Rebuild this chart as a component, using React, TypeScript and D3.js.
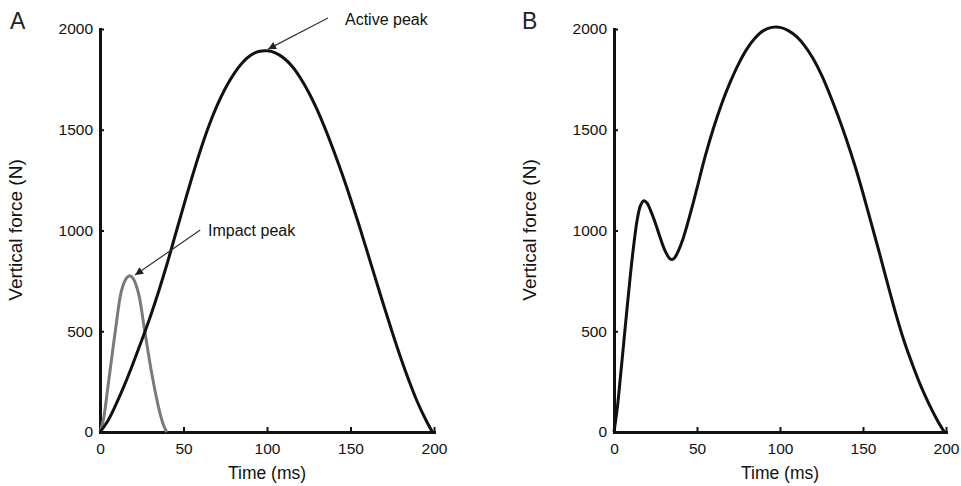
import { useEffect, useRef } from "react";
import * as d3 from "d3";

// Panel A, active (black) curve
const timeA = [0, 5, 10, 15, 20, 25, 30, 35, 40, 45, 50, 55, 60, 65, 70, 75, 80, 85, 90, 95, 100, 105, 110, 115, 120, 125, 130, 135, 140, 145, 150, 155, 160, 165, 170, 175, 180, 185, 190, 195, 199];
const activeA = [0, 60, 145, 240, 345, 455, 570, 695, 830, 975, 1120, 1262, 1395, 1515, 1618, 1705, 1775, 1830, 1868, 1888, 1892, 1882, 1856, 1815, 1757, 1685, 1600, 1502, 1395, 1280, 1158, 1030, 895, 760, 625, 495, 370, 255, 150, 62, 0];

// Panel A, impact (grey) curve
const impactTime = [0, 2, 5, 9, 13, 16, 18, 20, 23, 27, 31, 35, 38, 40];
const impactA = [0, 60, 240, 490, 705, 765, 775, 760, 690, 490, 290, 125, 35, 0];

// Panel B curve
const timeB = [0, 2, 4, 6, 8, 10, 12, 14, 16, 18, 20, 22, 25, 28, 31, 34, 36, 38, 41, 44, 47, 50, 55, 60, 65, 70, 75, 80, 85, 90, 95, 100, 105, 110, 115, 120, 125, 130, 135, 140, 145, 150, 155, 160, 165, 170, 175, 180, 185, 190, 195, 199];
const forceB = [0, 120, 285, 455, 625, 790, 935, 1055, 1125, 1148, 1135, 1100, 1035, 960, 895, 858, 860, 885, 945, 1025, 1115, 1210, 1370, 1510, 1632, 1736, 1826, 1900, 1955, 1992, 2008, 2008, 1992, 1962, 1915, 1852, 1772, 1675, 1568, 1452, 1325, 1185, 1035, 885, 730, 580, 445, 330, 225, 135, 55, 0];

const xTicks = [0, 50, 100, 150, 200];
const yTicks = [0, 500, 1000, 1500, 2000];

const font = "'Liberation Sans', Arial, sans-serif";

function App() {
  const ref = useRef(null);

  useEffect(() => {
    const svg = d3.select(ref.current);
    svg.selectAll("*").remove();

    const panels = [
      { letter: "A", letterX: 10, x0: 100, x1: 434 },
      { letter: "B", letterX: 522, x0: 614, x1: 946 },
    ];

    const scales = panels.map((p) => {
      const x = d3.scaleLinear().domain([0, 200]).range([p.x0, p.x1]);
      const y = d3.scaleLinear().domain([0, 2000]).range([432, 29]);

      // axes, ticks pointing inward
      const yAxis = d3
        .axisLeft(y)
        .tickValues(yTicks)
        .tickFormat(d3.format("d"))
        .tickSizeInner(-4)
        .tickSizeOuter(0)
        .tickPadding(7);
      const gy = svg.append("g").attr("transform", `translate(${p.x0},0)`).call(yAxis);

      const xAxis = d3
        .axisBottom(x)
        .tickValues(xTicks)
        .tickFormat(d3.format("d"))
        .tickSizeInner(-5)
        .tickSizeOuter(0)
        .tickPadding(11);
      const gx = svg.append("g").attr("transform", "translate(0,432)").call(xAxis);

      [gx, gy].forEach((g) => {
        g.select(".domain").attr("stroke", "#111").attr("stroke-width", 3).attr("stroke-linecap", "square");
        g.selectAll(".tick line").attr("stroke", "#111").attr("stroke-width", 2);
        g.selectAll(".tick text")
          .attr("fill", "#111")
          .style("font-family", font)
          .style("font-size", "15.5px");
      });

      // axis titles
      svg
        .append("text")
        .attr("transform", `translate(${p.x0 - 78},230) rotate(-90)`)
        .attr("text-anchor", "middle")
        .style("font-family", font)
        .style("font-size", "19px")
        .attr("fill", "#111")
        .text("Vertical force (N)");

      svg
        .append("text")
        .attr("x", (p.x0 + p.x1) / 2)
        .attr("y", 479)
        .attr("text-anchor", "middle")
        .style("font-family", font)
        .style("font-size", "17.5px")
        .attr("fill", "#111")
        .text("Time (ms)");

      // panel letter
      svg
        .append("text")
        .attr("x", p.letterX)
        .attr("y", 29)
        .style("font-family", font)
        .style("font-size", "23px")
        .attr("fill", "#222")
        .text(p.letter);

      return { x, y };
    });

    const [a, b] = scales;

    const lineA = d3
      .line()
      .x((d) => a.x(d[0]))
      .y((d) => a.y(d[1]))
      .curve(d3.curveCatmullRom.alpha(0.5));
    const lineB = d3
      .line()
      .x((d) => b.x(d[0]))
      .y((d) => b.y(d[1]))
      .curve(d3.curveCatmullRom.alpha(0.5));

    svg
      .append("path")
      .datum(impactTime.map((t, i) => [t, impactA[i]]))
      .attr("fill", "none")
      .attr("stroke", "#7a7a7a")
      .attr("stroke-width", 3)
      .attr("d", lineA);

    svg
      .append("path")
      .datum(timeA.map((t, i) => [t, activeA[i]]))
      .attr("fill", "none")
      .attr("stroke", "#111")
      .attr("stroke-width", 3)
      .attr("d", lineA);

    svg
      .append("path")
      .datum(timeB.map((t, i) => [t, forceB[i]]))
      .attr("fill", "none")
      .attr("stroke", "#111")
      .attr("stroke-width", 3)
      .attr("d", lineB);

    // annotations (in data units of panel A)
    const defs = svg.append("defs");
    defs
      .append("marker")
      .attr("id", "arrow")
      .attr("viewBox", "0 0 10 10")
      .attr("refX", 10)
      .attr("refY", 5)
      .attr("markerWidth", 11)
      .attr("markerHeight", 8)
      .attr("markerUnits", "userSpaceOnUse")
      .attr("orient", "auto")
      .append("path")
      .attr("d", "M0,0L10,5L0,10Z")
      .attr("fill", "#222");

    const notes = [
      { text: "Active peak", from: [136.5, 2055], to: [100.6, 1900], label: [146.7, 2020] },
      { text: "Impact peak", from: [60, 1002], to: [21, 779], label: [64.7, 973] },
    ];

    notes.forEach((n) => {
      svg
        .append("line")
        .attr("x1", a.x(n.from[0]))
        .attr("y1", a.y(n.from[1]))
        .attr("x2", a.x(n.to[0]))
        .attr("y2", a.y(n.to[1]))
        .attr("stroke", "#333")
        .attr("stroke-width", 1.2)
        .attr("marker-end", "url(#arrow)");
      svg
        .append("text")
        .attr("x", a.x(n.label[0]))
        .attr("y", a.y(n.label[1]))
        .style("font-family", font)
        .style("font-size", "16px")
        .attr("fill", "#111")
        .text(n.text);
    });
  }, []);

  return (
    <svg
      ref={ref}
      width={961}
      height={486}
      style={{ position: "absolute", left: 0, top: 0, background: "#fff" }}
    ></svg>
  );
}

export default App;
